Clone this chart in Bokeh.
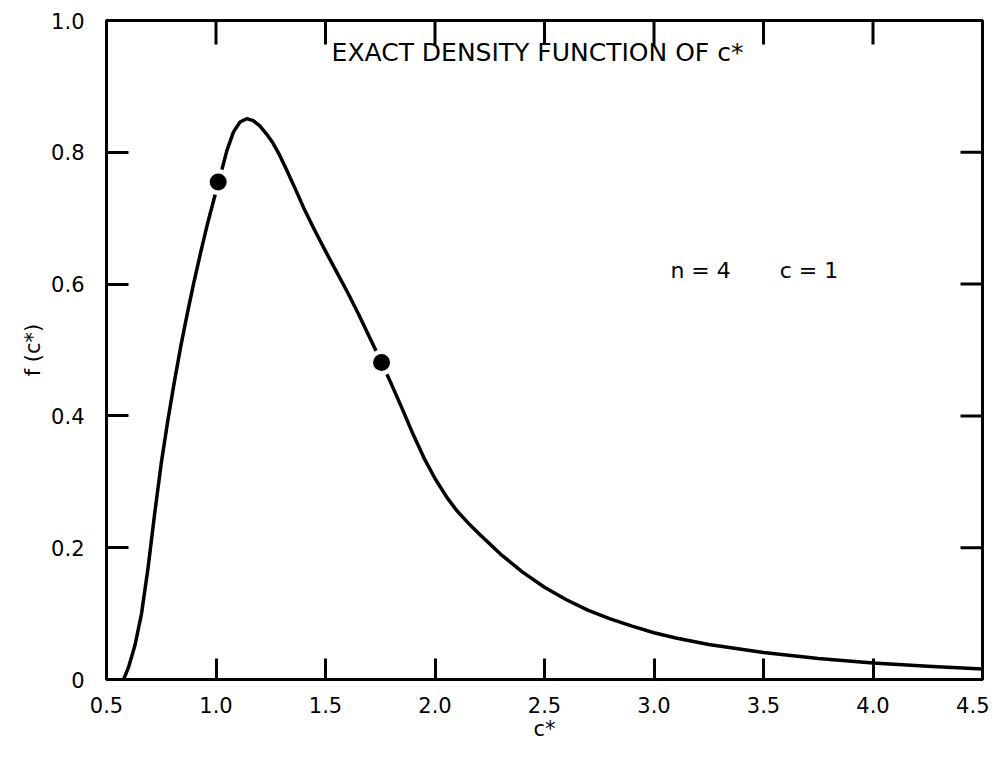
from bokeh.plotting import figure
from bokeh.models import Range1d, FixedTicker, Label
from bokeh.embed import file_html
from bokeh.resources import INLINE

# ---- data ----
c_star = [0.578, 0.60, 0.63, 0.66, 0.69, 0.72, 0.75, 0.78, 0.81, 0.84,
          0.87, 0.90, 0.93, 0.96, 0.99, 1.02, 1.05, 1.08, 1.11, 1.14,
          1.17, 1.20, 1.23, 1.26, 1.29, 1.32, 1.36, 1.40, 1.45, 1.50,
          1.55, 1.60, 1.65, 1.70, 1.756, 1.80, 1.85, 1.90, 1.95, 2.00,
          2.055, 2.10, 2.15, 2.208, 2.30, 2.40, 2.50, 2.60, 2.70, 2.80,
          2.90, 3.00, 3.10, 3.25, 3.50, 3.75, 4.00, 4.25, 4.50]
f_c = [0.0, 0.018, 0.052, 0.100, 0.170, 0.252, 0.328, 0.393, 0.452, 0.507,
       0.557, 0.604, 0.648, 0.690, 0.728, 0.765, 0.803, 0.831, 0.846, 0.851,
       0.848, 0.840, 0.828, 0.814, 0.796, 0.775, 0.746, 0.716, 0.682, 0.650,
       0.619, 0.588, 0.555, 0.520, 0.481, 0.449, 0.411, 0.372, 0.336, 0.305,
       0.276, 0.256, 0.238, 0.219, 0.190, 0.163, 0.140, 0.121, 0.105, 0.092,
       0.081, 0.071, 0.063, 0.053, 0.041, 0.032, 0.025, 0.020, 0.016]
marked_x = [1.01, 1.756]
marked_y = [0.755, 0.481]

x_ticks = [0.5, 1.0, 1.5, 2.0, 2.5, 3.0, 3.5, 4.0, 4.5]
x_tick_labels = ["0.5", "1.0", "1.5", "2.0", "2.5", "3.0", "3.5", "4.0", "4.5"]
y_ticks = [0.0, 0.2, 0.4, 0.6, 0.8, 1.0]
y_tick_labels = ["0", "0.2", "0.4", "0.6", "0.8", "1.0"]

title_text = "EXACT DENSITY FUNCTION OF c*"
param_text = "n = 4" + "\u00a0" * 7 + "c = 1"
x_label = "c*"
y_label = "f (c*)"

FONT = "DejaVu Sans"
X0, X1 = 0.5, 4.5
Y0, Y1 = 0.0, 1.0

p = figure(width=989, height=743, output_backend="svg", toolbar_location=None,
           x_range=Range1d(X0, X1), y_range=Range1d(Y0, Y1),
           min_border_left=106, min_border_right=7, min_border_top=20,
           min_border_bottom=63)
p.grid.visible = False
p.outline_line_color = "black"
p.outline_line_width = 3
p.background_fill_color = "white"
p.border_fill_color = "white"

def style_axis(ax, ticks, labels, tick_in, standoff, title, title_size, title_standoff):
    ax.ticker = FixedTicker(ticks=ticks)
    ax.major_label_overrides = {t: s for t, s in zip(ticks, labels)}
    ax.axis_line_width = 3
    ax.axis_line_color = "black"
    ax.major_tick_line_width = 3
    ax.major_tick_line_color = "black"
    ax.major_tick_in = tick_in
    ax.major_tick_out = 0
    ax.minor_tick_line_color = None
    ax.major_label_text_font = FONT
    ax.major_label_text_font_size = "21px"
    ax.major_label_text_color = "black"
    ax.major_label_standoff = standoff
    ax.axis_label = title
    ax.axis_label_text_font = FONT
    ax.axis_label_text_font_size = title_size
    ax.axis_label_text_font_style = "normal"
    ax.axis_label_text_color = "black"
    ax.axis_label_standoff = title_standoff

style_axis(p.xaxis[0], x_ticks, x_tick_labels, 21, 17, x_label, "21px", 1)
style_axis(p.yaxis[0], y_ticks, y_tick_labels, 22, 22, y_label, "21px", 3)

# inner ticks on the top and right edges of the frame
p.ray(x=x_ticks[1:-1], y=[Y1] * (len(x_ticks) - 2), length=24,
      length_units="screen", angle=-90, angle_units="deg",
      line_color="black", line_width=3)
p.ray(x=[X1] * (len(y_ticks) - 2), y=y_ticks[1:-1], length=22,
      length_units="screen", angle=180, angle_units="deg",
      line_color="black", line_width=3)

# curve
p.line(c_star, f_c, line_color="black", line_width=3.5, line_join="round")

# marked points with white halo (curve gap)
p.scatter(marked_x, marked_y, size=26, fill_color="white", line_color=None)
p.scatter(marked_x, marked_y, size=17, fill_color="black", line_color=None)

p.add_layout(Label(x=2.468, y=0.951, text=title_text, text_align="center",
                   text_baseline="middle", text_font=FONT,
                   text_font_size="25px", text_color="black"))
p.add_layout(Label(x=3.075, y=0.621, text=param_text, text_align="left",
                   text_baseline="middle", text_font=FONT,
                   text_font_size="22px", text_color="black"))

open("out.html", "w").write(file_html(p, INLINE))
